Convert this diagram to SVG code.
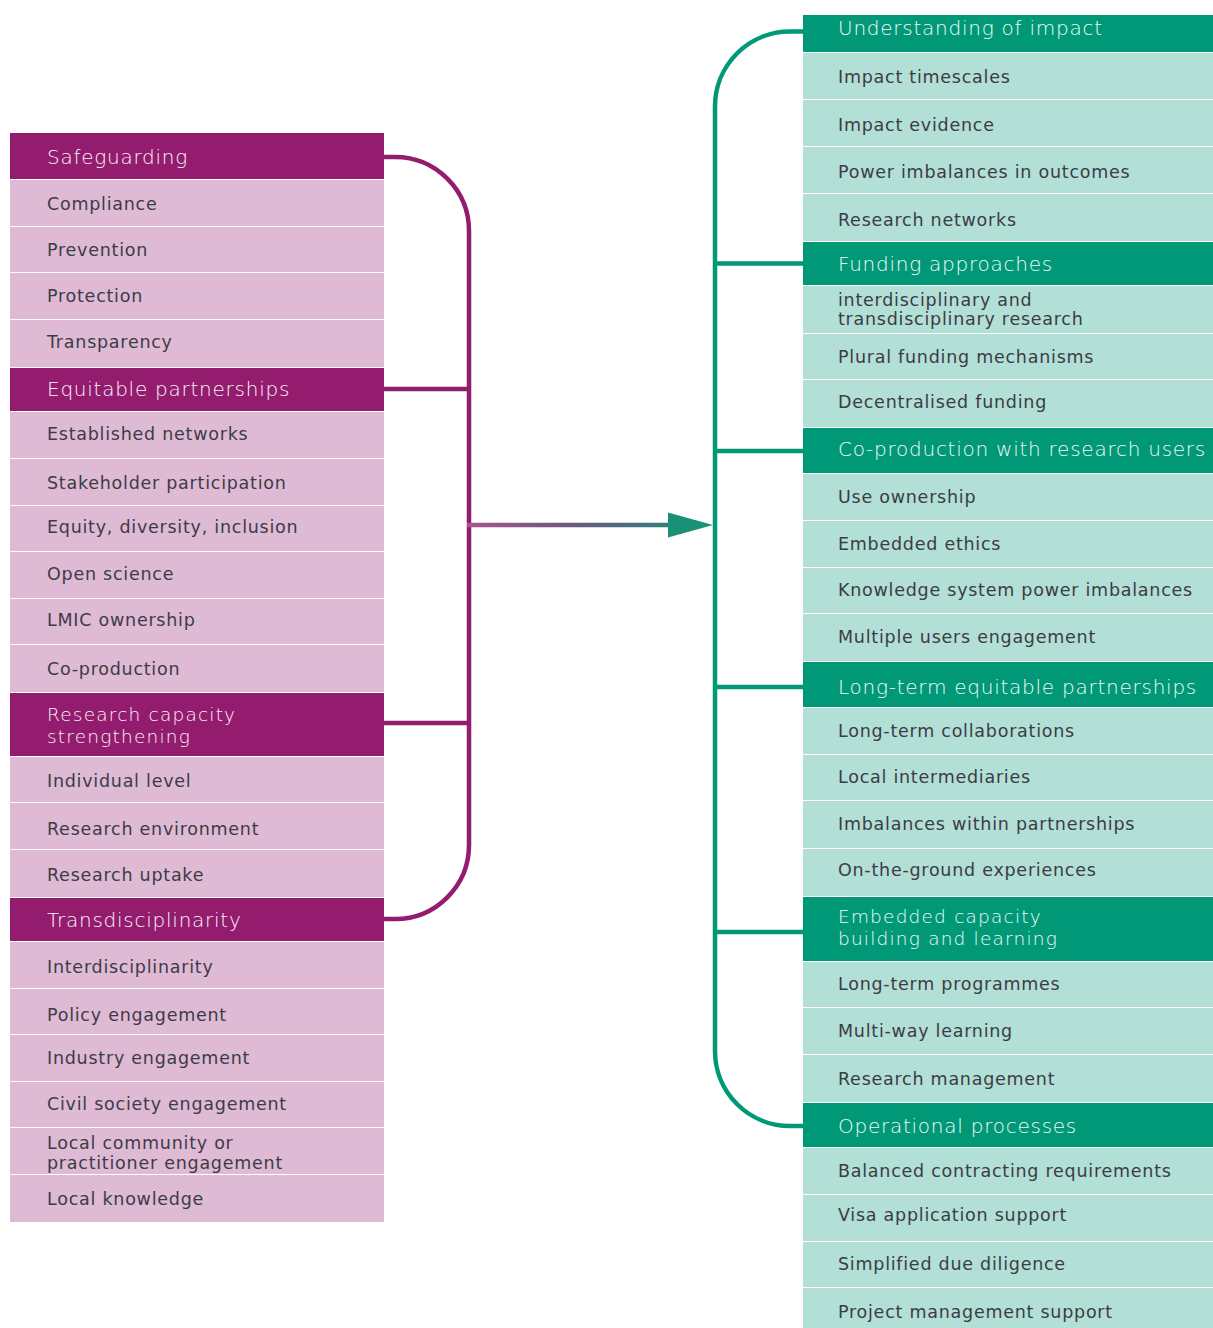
<svg xmlns="http://www.w3.org/2000/svg" width="1213" height="1328" viewBox="0 0 1213 1328">
<style>
.lh{fill:#931C6F}
.lr{fill:#DFBAD4}
.rh{fill:#009877}
.rr{fill:#B2DFD6}
text{font-family:"DejaVu Sans","Noto Sans",sans-serif}
.ht{font-size:20px;font-weight:200;letter-spacing:0.75px}
.ht2{font-size:18.5px;letter-spacing:1.2px}
.lht{fill:#FAF4F8}
.rht{fill:#F0FAF7}
.t{font-size:17.5px;fill:#3C3C46;letter-spacing:0.75px}
.br{fill:none;stroke-width:4.5}
.pb{stroke:#931C6F}
.gb{stroke:#009877}
</style>
<defs>
<linearGradient id="ag" gradientUnits="userSpaceOnUse" x1="468" y1="0" x2="712" y2="0">
<stop offset="0" stop-color="#A9538F"/>
<stop offset="0.45" stop-color="#665B7F"/>
<stop offset="1" stop-color="#1A9077"/>
</linearGradient>
</defs>
<rect width="1213" height="1328" fill="#FFFFFF"/>

<g id="left">
<g id="n-safeguarding"><rect class="lh" x="10" y="133" width="374" height="46"/><text class="ht lht" x="47" y="164">Safeguarding</text></g>
<g id="n-compliance"><rect class="lr" x="10" y="180" width="374" height="46"/><text class="t" x="47" y="210">Compliance</text></g>
<g id="n-prevention"><rect class="lr" x="10" y="227" width="374" height="45"/><text class="t" x="47" y="256">Prevention</text></g>
<g id="n-protection"><rect class="lr" x="10" y="273" width="374" height="46"/><text class="t" x="47" y="302">Protection</text></g>
<g id="n-transparency"><rect class="lr" x="10" y="320" width="374" height="47"/><text class="t" x="47" y="348">Transparency</text></g>
<g id="n-equitable"><rect class="lh" x="10" y="368" width="374" height="43"/><text class="ht lht" x="47" y="396">Equitable partnerships</text></g>
<g id="n-established"><rect class="lr" x="10" y="412" width="374" height="46"/><text class="t" x="47" y="440">Established networks</text></g>
<g id="n-stakeholder"><rect class="lr" x="10" y="459" width="374" height="46"/><text class="t" x="47" y="489">Stakeholder participation</text></g>
<g id="n-equity"><rect class="lr" x="10" y="506" width="374" height="45"/><text class="t" x="47" y="533">Equity, diversity, inclusion</text></g>
<g id="n-open"><rect class="lr" x="10" y="552" width="374" height="46"/><text class="t" x="47" y="580">Open science</text></g>
<g id="n-lmic"><rect class="lr" x="10" y="599" width="374" height="45"/><text class="t" x="47" y="626">LMIC ownership</text></g>
<g id="n-coprod"><rect class="lr" x="10" y="645" width="374" height="47"/><text class="t" x="47" y="675">Co-production</text></g>
<g id="n-rcs"><rect class="lh" x="10" y="693" width="374" height="63"/><text class="ht ht2 lht" x="47" y="721">Research capacity</text><text class="ht ht2 lht" x="47" y="743">strengthening</text></g>
<g id="n-individual"><rect class="lr" x="10" y="757" width="374" height="45"/><text class="t" x="47" y="787">Individual level</text></g>
<g id="n-environment"><rect class="lr" x="10" y="803" width="374" height="46"/><text class="t" x="47" y="835">Research environment</text></g>
<g id="n-uptake"><rect class="lr" x="10" y="850" width="374" height="47"/><text class="t" x="47" y="881">Research uptake</text></g>
<g id="n-transdisc"><rect class="lh" x="10" y="898" width="374" height="43"/><text class="ht lht" x="47" y="927">Transdisciplinarity</text></g>
<g id="n-interdisc"><rect class="lr" x="10" y="942" width="374" height="46"/><text class="t" x="47" y="973">Interdisciplinarity</text></g>
<g id="n-policy"><rect class="lr" x="10" y="989" width="374" height="45"/><text class="t" x="47" y="1021">Policy engagement</text></g>
<g id="n-industry"><rect class="lr" x="10" y="1035" width="374" height="46"/><text class="t" x="47" y="1064">Industry engagement</text></g>
<g id="n-civil"><rect class="lr" x="10" y="1082" width="374" height="45"/><text class="t" x="47" y="1110">Civil society engagement</text></g>
<g id="n-localcomm"><rect class="lr" x="10" y="1128" width="374" height="46"/><text class="t" x="47" y="1149">Local community or</text><text class="t" x="47" y="1169">practitioner engagement</text></g>
<g id="n-localknow"><rect class="lr" x="10" y="1175" width="374" height="47"/><text class="t" x="47" y="1205">Local knowledge</text></g>
</g>

<g id="right">
<g id="n-understanding"><rect class="rh" x="803" y="15" width="410" height="37"/><text class="ht rht" x="838" y="35">Understanding of impact</text></g>
<g id="n-timescales"><rect class="rr" x="803" y="53" width="410" height="46"/><text class="t" x="838" y="83">Impact timescales</text></g>
<g id="n-evidence"><rect class="rr" x="803" y="100" width="410" height="46"/><text class="t" x="838" y="131">Impact evidence</text></g>
<g id="n-power"><rect class="rr" x="803" y="147" width="410" height="46"/><text class="t" x="838" y="178">Power imbalances in outcomes</text></g>
<g id="n-networks"><rect class="rr" x="803" y="194" width="410" height="47"/><text class="t" x="838" y="226">Research networks</text></g>
<g id="n-funding"><rect class="rh" x="803" y="242" width="410" height="43"/><text class="ht rht" x="838" y="271">Funding approaches</text></g>
<g id="n-inter-trans"><rect class="rr" x="803" y="286" width="410" height="47"/><text class="t" x="838" y="306">interdisciplinary and</text><text class="t" x="838" y="325">transdisciplinary research</text></g>
<g id="n-plural"><rect class="rr" x="803" y="334" width="410" height="45"/><text class="t" x="838" y="363">Plural funding mechanisms</text></g>
<g id="n-decentral"><rect class="rr" x="803" y="380" width="410" height="47"/><text class="t" x="838" y="408">Decentralised funding</text></g>
<g id="n-coprod-users"><rect class="rh" x="803" y="428" width="410" height="45"/><text class="ht rht" x="838" y="456">Co-production with research users</text></g>
<g id="n-use"><rect class="rr" x="803" y="474" width="410" height="46"/><text class="t" x="838" y="503">Use ownership</text></g>
<g id="n-ethics"><rect class="rr" x="803" y="521" width="410" height="46"/><text class="t" x="838" y="550">Embedded ethics</text></g>
<g id="n-knowledge"><rect class="rr" x="803" y="568" width="410" height="45"/><text class="t" x="838" y="596">Knowledge system power imbalances</text></g>
<g id="n-multiple"><rect class="rr" x="803" y="614" width="410" height="47"/><text class="t" x="838" y="643">Multiple users engagement</text></g>
<g id="n-longterm"><rect class="rh" x="803" y="662" width="410" height="45"/><text class="ht rht" x="838" y="694">Long-term equitable partnerships</text></g>
<g id="n-collab"><rect class="rr" x="803" y="708" width="410" height="46"/><text class="t" x="838" y="737">Long-term collaborations</text></g>
<g id="n-intermed"><rect class="rr" x="803" y="755" width="410" height="45"/><text class="t" x="838" y="783">Local intermediaries</text></g>
<g id="n-imbalances"><rect class="rr" x="803" y="801" width="410" height="47"/><text class="t" x="838" y="830">Imbalances within partnerships</text></g>
<g id="n-ground"><rect class="rr" x="803" y="849" width="410" height="47"/><text class="t" x="838" y="876">On-the-ground experiences</text></g>
<g id="n-embedded"><rect class="rh" x="803" y="897" width="410" height="64"/><text class="ht ht2 rht" x="838" y="923">Embedded capacity</text><text class="ht ht2 rht" x="838" y="945">building and learning</text></g>
<g id="n-programmes"><rect class="rr" x="803" y="962" width="410" height="45"/><text class="t" x="838" y="990">Long-term programmes</text></g>
<g id="n-multiway"><rect class="rr" x="803" y="1008" width="410" height="46"/><text class="t" x="838" y="1037">Multi-way learning</text></g>
<g id="n-management"><rect class="rr" x="803" y="1055" width="410" height="47"/><text class="t" x="838" y="1085">Research management</text></g>
<g id="n-operational"><rect class="rh" x="803" y="1103" width="410" height="44"/><text class="ht rht" x="838" y="1133">Operational processes</text></g>
<g id="n-balanced"><rect class="rr" x="803" y="1148" width="410" height="46"/><text class="t" x="838" y="1177">Balanced contracting requirements</text></g>
<g id="n-visa"><rect class="rr" x="803" y="1195" width="410" height="46"/><text class="t" x="838" y="1221">Visa application support</text></g>
<g id="n-diligence"><rect class="rr" x="803" y="1242" width="410" height="45"/><text class="t" x="838" y="1270">Simplified due diligence</text></g>
<g id="n-projmgmt"><rect class="rr" x="803" y="1288" width="410" height="40"/><text class="t" x="838" y="1318">Project management support</text></g>
</g>

<g id="connectors">
<path class="br pb" d="M384,157 H395 A74,74 0 0 1 469,231 V845 A74,74 0 0 1 395,919 H384"/>
<path class="br pb" d="M384,389 H469 M384,723 H469"/>
<path class="br gb" d="M803,31.5 H790 A75,75 0 0 0 715,106.5 V1051 A75,75 0 0 0 790,1126 H803"/>
<path class="br gb" d="M715,263.5 H803 M715,451 H803 M715,687 H803 M715,932 H803"/>
<line x1="467" y1="525" x2="672" y2="525" stroke="url(#ag)" stroke-width="4.5"/>
<polygon points="668,512.5 713,525 668,537.5" fill="#1A9077"/>
</g>
</svg>
